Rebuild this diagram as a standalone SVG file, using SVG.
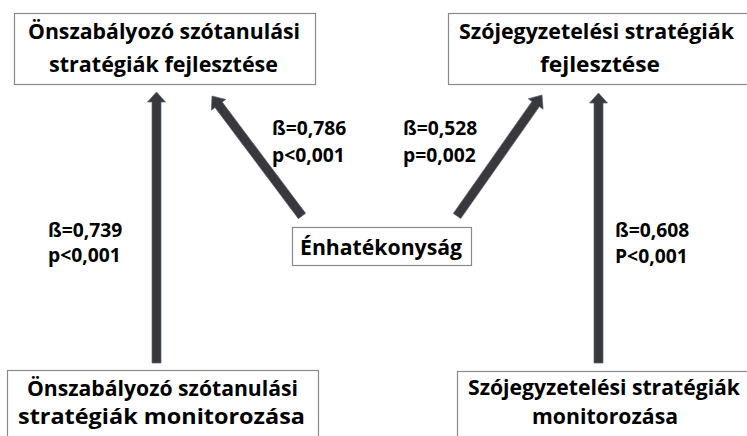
<svg xmlns="http://www.w3.org/2000/svg" width="747" height="436" viewBox="0 0 747 436">
<style>
.box{fill:#fff;stroke:#8a8a8a;stroke-width:1.2}
.t{font-family:"Open Sans","Noto Sans","Liberation Sans",sans-serif;font-weight:bold;font-size:22px;fill:#000;text-anchor:middle}
.l{font-family:"Open Sans","Noto Sans","Liberation Sans",sans-serif;font-weight:bold;font-size:19.3px;fill:#000}
.arr{fill:#39383d;stroke:#56627e;stroke-width:0.7}
</style>
<rect width="747" height="436" fill="#fff"/>
<g id="connectors">
<polygon class="arr" points="156.5,92 165.5,102 161,102 161,363 152,363 152,102 147.5,102"/>
<polygon class="arr" points="598.5,93 607.5,103 603,103 603,363 594,363 594,103 589.5,103"/>
<polygon class="arr" points="212,96 225.8,99.4 222.2,102.1 305.6,213.3 298.4,218.7 215,107.5 211.4,110.2"/>
<polygon class="arr" points="542,95 543.1,109.2 539.4,106.6 460.7,218.6 453.3,213.4 532,101.4 528.3,98.8"/>
</g>
<g id="labels">
<text class="l" x="272" y="135">ß=0,786</text>
<text class="l" x="272" y="162">p&lt;0,001</text>
<text class="l" x="403" y="135">ß=0,528</text>
<text class="l" x="403" y="162">p=0,002</text>
<text class="l" x="48" y="237">ß=0,739</text>
<text class="l" x="48" y="262">p&lt;0,001</text>
<text class="l" x="615" y="237">ß=0,608</text>
<text class="l" x="615" y="263">P&lt;0,001</text>
</g>
<g id="node-onszab-fejl">
<rect class="box" x="14.5" y="13.5" width="301" height="71"/>
<text class="t" x="164" y="39" textLength="272" lengthAdjust="spacingAndGlyphs">Önszabályozó szótanulási</text>
<text class="t" x="163.5" y="72" textLength="229" lengthAdjust="spacingAndGlyphs">stratégiák fejlesztése</text>
</g>
<g id="node-szojegy-fejl">
<rect class="box" x="448.5" y="13.5" width="300" height="71"/>
<text class="t" x="596.5" y="39" textLength="275" lengthAdjust="spacingAndGlyphs">Szójegyzetelési stratégiák</text>
<text class="t" x="600" y="72" textLength="120" lengthAdjust="spacingAndGlyphs">fejlesztése</text>
</g>
<g id="node-enhatekonysag">
<rect class="box" x="292.5" y="227.5" width="179" height="38"/>
<text class="t" x="381" y="255" textLength="162" lengthAdjust="spacingAndGlyphs">Énhatékonyság</text>
</g>
<g id="node-onszab-mon">
<rect class="box" x="7.5" y="370.5" width="311" height="80"/>
<text class="t" x="162.5" y="396" textLength="271" lengthAdjust="spacingAndGlyphs">Önszabályozó szótanulási</text>
<text class="t" x="161.5" y="424" textLength="287" lengthAdjust="spacingAndGlyphs">stratégiák monitorozása</text>
</g>
<g id="node-szojegy-mon">
<rect class="box" x="457.5" y="371.5" width="300" height="80"/>
<text class="t" x="604" y="395" textLength="272" lengthAdjust="spacingAndGlyphs">Szójegyzetelési stratégiák</text>
<text class="t" x="605" y="424" textLength="146" lengthAdjust="spacingAndGlyphs">monitorozása</text>
</g>
</svg>
